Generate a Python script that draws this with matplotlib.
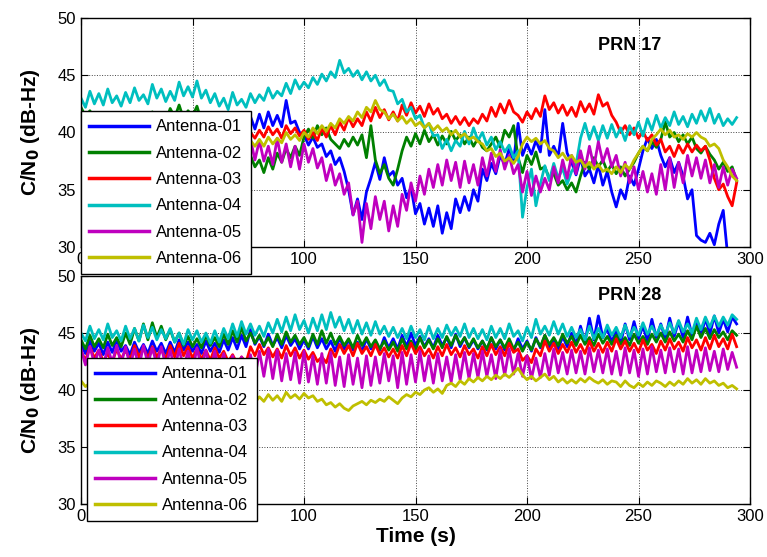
import numpy as np
import matplotlib
matplotlib.use("Agg")
import matplotlib.pyplot as plt

plt.rcParams['font.family'] = ['Liberation Sans', 'DejaVu Sans']

# sample times (s), one reading every 2 s
time_s = np.arange(0, 296, 2)

labels = ['Antenna-01', 'Antenna-02', 'Antenna-03', 'Antenna-04', 'Antenna-05', 'Antenna-06']
colors = ['#0000ff', '#008000', '#ff0000', '#00bfbf', '#bf00bf', '#bfbf00']

# ---- PRN 17 (C/N0, dB-Hz) ----
prn17_a01 = [40.0, 39.2, 40.4, 39.5, 40.2, 39.3, 40.1, 39.4, 40.3, 39.6,
             40.1, 39.3, 40.0, 39.2, 40.3, 39.5, 40.1, 39.4, 40.2, 39.3,
             40.0, 39.4, 40.3, 39.6, 40.1, 39.2, 40.2, 39.5, 40.4, 39.6,
             40.2, 39.5, 40.6, 39.8, 40.5, 39.7, 40.8, 40.0, 41.4, 40.3,
             41.6, 40.4, 41.8, 40.6, 41.5, 40.5, 42.8, 40.8, 41.0, 40.0,
             39.8, 38.9, 39.6, 38.7, 39.0, 37.9, 38.4, 37.2, 37.8, 36.6,
             35.0, 32.8, 34.2, 32.4, 34.8, 36.0, 37.4, 35.9, 37.8, 36.2,
             36.6, 35.4, 36.0, 34.3, 35.2, 32.9, 33.8, 32.0, 33.4, 31.8,
             33.6, 31.2, 33.0, 31.6, 34.2, 33.0, 34.4, 33.2, 35.0, 34.0,
             36.8, 35.8, 37.3, 36.4, 38.0, 37.2, 38.6, 37.5, 40.8, 38.0,
             39.0, 38.1, 39.3, 38.3, 42.0, 38.0, 38.8, 37.9, 40.8, 38.2,
             37.4, 36.3, 37.8, 36.2, 36.8, 35.6, 37.2, 35.4, 36.6, 34.8,
             33.5, 35.0, 34.2, 36.2, 35.4, 36.8, 38.4, 39.5, 38.6, 39.4,
             38.0, 37.0, 37.8, 36.5, 37.4, 36.2, 34.2, 35.0, 31.0, 30.6,
             30.4, 31.2, 30.2, 32.0, 33.2, 29.2, 28.0, 28.0]
prn17_a02 = [42.2, 41.4, 41.9, 41.1, 41.6, 40.9, 41.5, 40.8, 41.3, 40.7,
             41.4, 40.8, 41.6, 40.9, 41.7, 41.0, 41.8, 41.1, 41.6, 40.9,
             42.1, 41.3, 42.4, 41.2, 41.9, 41.4, 42.3, 41.0, 41.5, 40.6,
             40.8, 40.0, 40.4, 39.5, 39.8, 39.0, 39.3, 38.4, 38.0, 37.0,
             37.6, 36.5, 37.8, 36.8, 38.2, 37.4, 38.6, 37.8, 38.8, 38.0,
             39.6, 40.3, 39.5, 40.6, 39.8, 40.4, 39.4, 39.0, 38.6, 39.4,
             38.8, 39.6, 38.9, 39.8, 37.8, 40.6, 37.6, 36.4, 37.2, 36.0,
             35.4, 36.8, 38.4, 39.6, 38.8, 39.9, 39.0, 40.2, 39.2, 39.8,
             38.9, 39.7, 39.0, 40.1, 39.3, 39.8, 39.0, 39.6, 38.8, 39.5,
             38.7, 38.4, 39.0, 39.6, 38.7, 40.2, 39.6, 40.6, 37.8, 36.5,
             38.0, 37.2, 38.3, 36.8, 37.0, 36.0, 36.4, 35.4, 35.8, 35.0,
             35.6, 34.8, 36.2, 37.4, 36.8, 37.8, 37.0, 37.6, 36.6, 37.2,
             36.4, 37.0, 36.2, 36.8, 37.4, 38.2, 38.8, 38.4, 39.2, 38.7,
             39.4, 40.9, 39.6, 40.0, 39.2, 39.8, 39.0, 39.6, 38.6, 38.2,
             38.8, 38.1, 37.6, 36.8, 37.4, 36.6, 37.0, 35.8]
prn17_a03 = [40.2, 39.6, 40.5, 39.8, 40.3, 39.5, 40.1, 39.7, 40.4, 39.6,
             40.0, 39.4, 40.3, 39.7, 40.2, 39.5, 40.4, 39.8, 40.1, 39.6,
             40.3, 39.7, 40.2, 39.5, 40.0, 39.4, 40.3, 39.6, 40.1, 39.5,
             40.0, 39.5, 40.2, 39.6, 40.1, 39.4, 39.9, 39.3, 40.0, 39.5,
             40.2, 39.6, 40.5, 39.8, 40.3, 39.5, 40.6, 39.9, 40.4, 39.7,
             40.2, 39.4, 40.0, 39.3, 40.4, 39.6, 40.6, 39.8, 40.9, 40.2,
             41.3, 40.5, 41.2, 40.6, 41.8, 41.0, 42.2, 41.3, 42.0, 41.1,
             41.8, 41.0, 42.4, 41.5, 42.6, 41.7, 42.3, 41.4, 42.5, 41.6,
             42.1, 41.2, 41.6, 40.8, 41.4, 40.7, 41.3, 40.6, 41.2, 40.8,
             41.6, 41.0, 42.2, 41.4, 42.5, 41.7, 42.8, 41.8, 41.5, 40.9,
             41.8, 41.2, 42.1, 41.4, 43.2, 42.0, 42.6, 41.7, 42.4, 41.5,
             42.2, 41.4, 42.7, 41.8, 42.5, 41.6, 43.3, 42.3, 42.6, 41.5,
             40.9, 40.0, 40.6, 39.8, 40.4, 39.5, 40.1, 39.3, 39.8, 38.9,
             39.4, 38.3, 38.8, 37.9, 38.9, 38.2, 39.0, 38.3, 38.9, 38.4,
             38.8, 37.6, 36.0, 35.0, 35.5, 34.4, 33.6, 35.6]
prn17_a04 = [43.0, 42.2, 43.6, 42.5, 43.4, 42.4, 43.8, 42.6, 43.2, 42.3,
             43.5, 42.6, 43.9, 42.8, 43.3, 42.5, 44.2, 43.0, 43.8, 42.7,
             43.6, 42.8, 44.4, 43.2, 44.0, 43.1, 44.5, 43.0, 43.7, 42.6,
             43.4, 42.3, 43.0, 42.0, 43.5, 42.4, 42.9, 42.2, 43.4, 42.6,
             43.3, 42.8, 43.9, 43.0, 43.6, 43.2, 44.3, 43.4, 44.6, 43.8,
             44.4, 43.9, 44.8, 44.2, 45.1, 44.5, 45.3, 44.8, 46.3, 45.2,
             45.6, 44.9, 45.4, 44.6, 45.3, 44.5, 45.0, 44.1, 44.6, 43.7,
             43.6, 42.5, 42.9, 41.8, 42.2, 41.2, 41.5, 40.4, 40.8, 39.7,
             39.8, 38.6, 39.4, 38.4, 39.3, 38.8, 40.1, 39.0, 40.4, 39.3,
             40.0, 38.9, 39.6, 38.5, 39.2, 38.3, 38.9, 37.8, 38.4, 32.6,
             35.2, 36.8, 33.6, 35.5, 37.1, 35.8, 37.3, 36.0, 36.9, 35.5,
             36.6, 37.2, 39.5, 40.8, 39.4, 40.5, 39.3, 40.6, 39.5, 40.7,
             39.6, 40.4, 39.3, 40.6, 39.8, 40.9, 39.7, 41.2, 40.2, 41.5,
             40.4, 41.3, 40.6, 41.8, 40.7, 41.4, 40.5, 41.6, 40.8, 41.9,
             41.0, 42.1, 40.8, 41.6, 40.6, 41.2, 40.7, 41.3]
prn17_a05 = [39.0, 38.0, 39.2, 38.2, 39.0, 37.9, 38.8, 37.8, 39.1, 38.0,
             38.9, 37.8, 39.0, 38.1, 38.7, 37.6, 38.9, 37.9, 38.8, 37.7,
             38.6, 37.5, 38.8, 37.8, 38.9, 37.6, 38.7, 37.5, 38.6, 37.4,
             38.5, 37.3, 38.6, 37.5, 38.8, 37.6, 39.0, 37.8, 39.4, 37.6,
             39.3, 37.5, 38.8, 37.2, 39.5, 37.4, 39.0, 37.0, 38.8, 36.8,
             39.0, 37.4, 38.6, 36.9, 37.8, 35.8, 37.2, 35.4, 36.4, 34.6,
             35.6, 32.8, 34.0, 30.4, 33.8, 31.6, 34.4, 32.4, 34.0, 31.4,
             33.6, 31.8, 34.6, 33.2, 35.6, 34.0, 36.2, 34.6, 36.8, 35.2,
             37.2, 35.4, 37.6, 35.8, 37.4, 35.2, 37.5, 35.6, 37.2, 35.4,
             37.8, 36.2, 38.2, 36.6, 38.5, 36.8, 38.0, 36.4, 37.2, 34.8,
             36.6, 34.5, 36.2, 34.8, 36.0, 35.0, 37.0, 35.6, 37.6, 36.0,
             38.0, 36.4, 38.4, 36.8, 38.8, 37.0, 39.2, 37.4, 38.6, 37.0,
             38.0, 36.2, 37.4, 35.6, 37.0, 35.0, 36.6, 34.8, 36.4, 34.6,
             37.2, 35.0, 37.8, 35.2, 37.4, 35.6, 38.0, 36.2, 37.8, 36.0,
             37.6, 35.6, 37.2, 35.2, 37.0, 35.4, 36.8, 36.0]
prn17_a06 = [39.2, 38.7, 39.4, 38.9, 39.1, 38.6, 39.3, 38.8, 39.2, 38.7,
             39.0, 38.6, 39.3, 38.8, 39.2, 38.7, 39.0, 38.5, 39.1, 38.6,
             39.0, 38.6, 39.2, 38.7, 39.1, 38.6, 39.3, 38.8, 39.2, 38.7,
             39.0, 38.5, 39.1, 38.7, 39.2, 38.6, 39.0, 38.5, 39.3, 38.8,
             39.4, 38.8, 39.6, 39.0, 39.5, 39.1, 40.0, 39.4, 39.8, 39.3,
             40.0, 39.6, 40.4, 39.9, 40.6, 40.1, 40.8, 40.4, 41.2, 40.8,
             41.4, 41.0, 41.8, 41.3, 42.2, 41.8, 42.8, 42.0, 41.8, 41.2,
             41.6, 41.0, 41.4, 40.8, 41.2, 40.6, 40.9, 40.4, 40.8, 40.2,
             40.6, 40.1, 40.4, 39.8, 40.2, 39.6, 39.9, 39.4, 39.6, 39.2,
             39.0, 38.4, 38.6, 37.9, 38.2, 37.5, 37.8, 37.3, 37.9, 39.0,
             39.6, 39.2, 39.5, 39.0, 39.3, 38.6, 38.4, 37.8, 38.2, 37.6,
             38.0, 37.4, 37.6, 37.0, 37.4, 36.8, 37.2, 36.6, 36.8, 36.4,
             37.0, 36.5, 37.2, 36.8, 37.6, 38.2, 38.8, 38.4, 39.4, 39.8,
             40.3, 39.8, 40.2, 39.6, 39.8, 39.4, 39.9, 39.6, 40.0, 39.6,
             39.4, 38.8, 39.0, 38.6, 37.6, 37.0, 36.2, 35.8]

# ---- PRN 28 (C/N0, dB-Hz) ----
prn28_a01 = [44.0, 43.2, 44.3, 43.4, 44.1, 43.1, 44.2, 43.3, 44.4, 43.4,
             43.9, 43.1, 44.2, 43.3, 44.0, 43.2, 44.3, 43.4, 44.1, 43.2,
             44.2, 43.3, 44.4, 43.5, 44.2, 43.4, 44.0, 43.2, 44.3, 43.4,
             44.1, 43.3, 44.4, 43.5, 44.6, 43.6, 44.8, 43.8, 45.3, 44.0,
             44.7, 43.8, 44.9, 43.9, 44.6, 43.7, 44.8, 43.9, 44.5, 43.6,
             44.4, 43.6, 44.7, 43.7, 44.5, 43.6, 44.3, 43.4, 44.6, 43.6,
             44.4, 43.5, 44.2, 43.4, 44.5, 43.6, 44.3, 43.5, 44.6, 43.7,
             44.5, 43.6, 44.8, 43.8, 45.0, 43.9, 44.7, 43.8, 44.5, 43.7,
             44.8, 43.9, 44.6, 43.7, 44.9, 43.8, 44.6, 43.7, 44.4, 43.6,
             44.3, 43.5, 44.6, 43.6, 44.4, 43.5, 44.2, 43.4, 44.5, 43.6,
             44.3, 43.4, 44.6, 43.7, 44.8, 43.8, 44.5, 43.6, 44.7, 43.8,
             45.0, 44.0, 45.6, 44.2, 46.3, 44.4, 46.5, 44.6, 45.4, 44.2,
             45.2, 44.1, 45.8, 44.4, 46.0, 44.5, 45.6, 44.3, 46.2, 44.6,
             45.8, 44.5, 46.3, 44.7, 46.0, 44.6, 46.4, 44.8, 46.1, 44.7,
             46.3, 44.9, 46.5, 45.0, 46.2, 45.1, 46.4, 45.8]
prn28_a02 = [44.4, 43.6, 44.8, 43.8, 44.5, 43.7, 44.9, 43.9, 44.6, 43.8,
             45.0, 44.0, 45.4, 44.3, 45.8, 44.4, 45.9, 44.6, 45.6, 44.4,
             45.3, 44.2, 45.0, 43.9, 44.7, 43.8, 44.5, 43.7, 44.8, 43.9,
             44.6, 43.8, 44.9, 44.0, 45.2, 44.2, 45.5, 44.3, 45.0, 44.1,
             44.8, 43.9, 44.6, 43.8, 44.9, 44.0, 45.1, 44.2, 44.8, 44.0,
             44.6, 43.8, 44.9, 44.0, 45.2, 44.1, 45.0, 44.0, 44.7, 43.9,
             44.5, 43.7, 44.8, 43.9, 44.6, 43.8, 44.4, 43.6, 44.3, 43.5,
             44.2, 43.4, 44.5, 43.6, 44.3, 43.5, 44.6, 43.7, 44.4, 43.6,
             44.5, 43.7, 44.7, 43.9, 44.8, 44.0, 44.6, 43.8, 44.5, 43.7,
             44.3, 43.6, 44.6, 43.8, 44.4, 43.7, 44.5, 43.6, 44.2, 43.4,
             44.2, 43.5, 44.5, 43.8, 44.8, 44.0, 44.6, 43.9, 44.9, 44.1,
             44.7, 43.9, 44.8, 44.0, 44.6, 43.9, 44.9, 44.1, 44.7, 44.0,
             44.8, 44.0, 44.6, 43.9, 44.9, 44.1, 44.7, 44.0, 44.9, 44.2,
             45.0, 44.2, 45.1, 44.3, 44.9, 44.2, 45.2, 44.4, 45.6, 44.6,
             45.4, 44.5, 45.3, 44.6, 45.1, 44.4, 45.2, 44.8]
prn28_a03 = [43.4, 42.6, 43.8, 42.8, 43.5, 42.5, 43.2, 42.4, 43.6, 42.7,
             43.5, 42.6, 43.9, 42.9, 43.7, 42.8, 43.8, 42.9, 43.6, 42.7,
             43.9, 42.9, 44.1, 43.0, 43.8, 42.8, 43.6, 42.7, 43.5, 42.6,
             43.7, 42.8, 43.4, 42.5, 43.1, 42.3, 42.9, 42.4, 43.8, 43.0,
             44.0, 43.1, 43.7, 42.9, 43.6, 42.8, 43.9, 43.0, 43.7, 42.8,
             43.5, 42.7, 43.3, 42.5, 42.9, 42.4, 43.6, 42.9, 44.0, 43.2,
             43.9, 43.0, 44.1, 43.2, 43.8, 43.0, 44.0, 43.1, 43.7, 42.9,
             43.6, 42.8, 43.9, 43.0, 44.1, 43.2, 43.8, 43.0, 43.6, 42.8,
             43.8, 43.0, 44.0, 43.1, 43.7, 42.9, 43.9, 43.1, 43.6, 42.8,
             43.8, 43.0, 44.0, 43.1, 43.8, 43.0, 44.1, 43.3, 43.6, 42.6,
             43.0, 42.4, 43.6, 43.0, 44.3, 43.4, 44.1, 43.2, 44.0, 43.3,
             44.2, 43.3, 44.0, 43.2, 44.3, 43.4, 44.1, 43.3, 44.2, 43.4,
             44.5, 43.6, 44.3, 43.4, 44.1, 43.3, 44.4, 43.5, 44.0, 43.2,
             44.3, 43.5, 44.5, 43.6, 44.2, 43.4, 44.6, 43.7, 44.4, 43.5,
             44.6, 43.6, 44.8, 43.8, 44.5, 43.6, 44.9, 43.8]
prn28_a04 = [45.0, 44.3, 45.6, 44.5, 45.3, 44.4, 45.8, 44.6, 45.2, 44.3,
             45.6, 44.5, 45.4, 44.3, 45.7, 44.6, 45.5, 44.4, 45.3, 44.5,
             45.4, 44.2, 45.0, 44.0, 45.3, 44.4, 45.2, 44.2, 45.0, 44.1,
             45.2, 44.2, 45.4, 44.5, 45.8, 44.7, 46.0, 44.9, 45.8, 44.8,
             45.6, 44.7, 45.9, 45.0, 46.2, 45.1, 46.4, 45.2, 46.6, 45.3,
             46.1, 45.0, 46.3, 45.2, 46.6, 45.3, 46.8, 45.5, 46.4, 45.2,
             46.2, 45.0, 46.1, 44.9, 45.9, 44.8, 46.0, 44.9, 45.6, 44.7,
             45.5, 44.6, 45.4, 44.5, 45.6, 44.6, 45.3, 44.4, 45.6, 44.5,
             45.4, 44.6, 45.7, 44.8, 45.5, 44.7, 45.8, 44.6, 45.4, 44.5,
             45.3, 44.4, 45.6, 44.6, 45.4, 44.5, 45.8, 44.7, 45.2, 44.3,
             45.5, 44.6, 46.2, 44.9, 45.6, 44.8, 46.0, 44.9, 45.8, 44.7,
             45.5, 44.6, 45.3, 44.4, 45.6, 44.5, 45.4, 44.6, 45.7, 44.8,
             45.5, 44.6, 45.7, 44.7, 45.5, 44.8, 45.9, 44.9, 45.6, 44.8,
             45.7, 44.9, 45.9, 45.0, 46.1, 45.1, 45.8, 45.0, 46.3, 45.3,
             46.4, 45.5, 46.5, 45.6, 46.4, 45.7, 46.6, 46.2]
prn28_a05 = [43.6, 42.2, 43.8, 42.3, 43.5, 42.0, 43.7, 42.4, 43.9, 42.3,
             43.8, 42.1, 43.6, 42.0, 43.9, 42.3, 43.7, 42.2, 43.8, 42.1,
             43.5, 41.8, 43.6, 41.9, 43.4, 41.6, 43.7, 41.9, 43.5, 41.7,
             43.4, 41.6, 43.2, 41.4, 43.0, 41.2, 42.9, 41.0, 43.1, 41.1,
             43.4, 41.2, 43.6, 41.0, 43.5, 40.8, 43.2, 40.9, 43.3, 40.6,
             43.4, 40.7, 43.0, 40.5, 43.2, 40.6, 43.3, 40.4, 42.9, 40.3,
             43.1, 40.5, 42.8, 40.2, 43.0, 40.4, 42.9, 40.6, 43.2, 40.8,
             43.0, 40.2, 43.3, 40.5, 43.1, 40.7, 43.4, 40.8, 43.0, 40.6,
             43.2, 40.8, 42.9, 40.7, 43.1, 40.9, 43.3, 41.0, 43.2, 41.1,
             43.4, 41.2, 43.1, 41.0, 43.5, 41.3, 43.6, 41.4, 43.2, 41.2,
             43.0, 41.0, 42.8, 41.1, 43.2, 41.3, 43.6, 41.5, 43.3, 41.4,
             43.5, 41.5, 43.4, 41.4, 43.7, 41.6, 43.5, 41.5, 43.6, 41.4,
             43.4, 41.3, 43.7, 41.5, 43.5, 41.2, 43.6, 41.4, 43.8, 41.6,
             43.5, 41.5, 43.7, 41.6, 43.6, 41.4, 43.8, 41.5, 43.5, 41.6,
             43.7, 41.7, 43.4, 41.6, 43.6, 41.8, 43.3, 42.0]
prn28_a06 = [40.8, 40.3, 40.6, 40.1, 40.4, 39.9, 40.2, 39.8, 40.1, 39.7,
             40.0, 39.6, 39.9, 39.5, 39.8, 39.3, 39.7, 39.2, 39.6, 39.2,
             39.5, 39.1, 39.4, 39.0, 39.3, 38.9, 39.2, 38.8, 39.1, 38.8,
             39.0, 38.6, 39.1, 38.7, 39.2, 38.8, 39.0, 38.7, 39.2, 38.9,
             39.4, 39.0, 39.6, 39.1, 39.5, 39.0, 39.8, 39.3, 39.6, 39.2,
             39.7, 39.3, 39.5, 39.0, 39.2, 38.7, 38.9, 38.5, 38.8, 38.4,
             38.2, 38.6, 38.8, 39.0, 38.7, 39.1, 38.9, 39.2, 39.0, 39.4,
             39.1, 38.8, 39.3, 39.6, 39.4, 39.8, 39.6, 40.0, 40.2, 39.8,
             40.1, 39.7, 40.4, 40.6, 40.3, 40.8, 40.5, 41.0, 40.7, 41.1,
             40.8, 41.2, 40.9, 41.3, 41.0, 41.4, 41.1, 41.5, 41.9, 41.3,
             40.9, 41.2, 40.8, 41.1, 41.4, 40.9, 41.2, 40.7, 41.0, 40.6,
             40.9, 40.6, 41.0, 40.7, 41.1, 40.8, 40.6, 40.9, 40.5, 40.8,
             40.7, 40.3, 40.8, 40.4, 40.2, 40.6, 40.3, 40.7, 40.4, 40.8,
             40.6, 40.3, 40.7, 40.4, 40.8, 40.5, 41.0, 40.6, 40.9, 40.5,
             41.0, 40.6, 40.8, 40.4, 40.6, 40.2, 40.4, 40.1]

prn17 = [prn17_a01, prn17_a02, prn17_a03, prn17_a04, prn17_a05, prn17_a06]
prn28 = [prn28_a01, prn28_a02, prn28_a03, prn28_a04, prn28_a05, prn28_a06]

W, H = 767, 557
fig = plt.figure(figsize=(W / 100, H / 100), dpi=100)

ax1 = fig.add_axes([81 / W, 1 - 247 / H, 669 / W, 229 / H])
ax2 = fig.add_axes([81 / W, 1 - 504 / H, 669 / W, 228 / H])


def style(ax):
    ax.set_xlim(0, 300)
    ax.set_ylim(30, 50)
    ax.set_xticks(range(0, 301, 50))
    ax.set_yticks(range(30, 51, 5))
    ax.tick_params(direction='in', top=True, right=True, labelsize=12, length=5, width=0.8)
    ax.grid(True, color='#444444', linestyle=':', linewidth=0.7)
    for s in ax.spines.values():
        s.set_linewidth(1.0)
    ax.set_ylabel('C/N$_\\mathbf{0}$ (dB-Hz)', fontsize=15, fontweight='bold', labelpad=11)


for ax, series, title, leg_xy in [(ax1, prn17, 'PRN 17', (81, 111)),
                                  (ax2, prn28, 'PRN 28', (87, 358))]:
    for vals, lab, col in zip(series, labels, colors):
        ax.plot(time_s, vals, color=col, linewidth=2.0, label=lab)
    style(ax)
    ax.text(246, 50 - (2.4 if title == 'PRN 17' else 1.75), title, fontsize=13,
            fontweight='bold', ha='center', va='center')
    leg = ax.legend(loc='upper left', bbox_to_anchor=(leg_xy[0] / W, 1 - leg_xy[1] / H),
                    bbox_transform=fig.transFigure, borderaxespad=0, fontsize=12,
                    handlelength=3.6, handletextpad=0.4, labelspacing=0.68,
                    borderpad=0.5, fancybox=False, framealpha=1, edgecolor='black')
    leg.get_frame().set_linewidth(1.0)
    for ln in leg.get_lines():
        ln.set_linewidth(2.5)

ax2.set_xlabel('Time (s)', fontsize=15, fontweight='bold', labelpad=2)

fig.savefig('out.png', dpi=100)
